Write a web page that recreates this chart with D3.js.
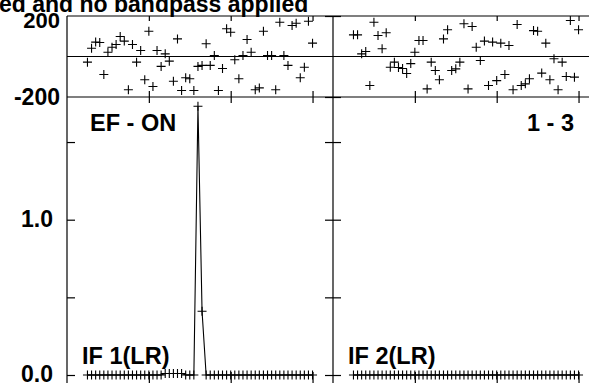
<!DOCTYPE html>
<html>
<head>
<meta charset="utf-8">
<script src="https://cdn.jsdelivr.net/npm/d3@7"></script>
<style>
  html, body { margin: 0; padding: 0; background: #fff; overflow: hidden; }
  svg { display: block; }
  text { font-family: "Liberation Sans", Arial, Helvetica, sans-serif; font-weight: bold; fill: #000; }
</style>
</head>
<body>
<svg id="chart" width="589" height="383"></svg>
<script>
// ---------------- DATA ----------------
const channels = [5,6,7,8,9,10,11,12,13,14,15,16,17,18,19,20,21,22,23,24,25,26,27,28,29,30,
  31,32,33,34,35,36,37,38,39,40,41,42,43,44,45,46,47,48,49,50,51,52,53,54,55,56,57,58,59,60];

const phaseIF1 = [-28,41,71,69,-89,21,46,59,99,76,-164,59,-28,30,-115,125,-148,30,-49,13,
  -23,-122,87,-168,-105,-110,-168,-49,-44,63,-44,5,-168,-59,137,120,-16,-110,5,84,
  21,-164,-155,125,5,5,-164,169,5,-44,153,164,-105,-53,174,66];

const phaseIF2 = [107,107,13,25,-143,169,104,38,117,-53,-28,-54,-59,-84,-35,21,79,79,-160,-28,
  -69,-115,87,132,-69,-61,-28,162,-160,148,46,-20,76,-143,71,-119,66,-89,54,-164,
  158,-143,-135,-110,128,125,-82,66,-115,-11,-164,-28,-99,178,-102,132];

const ampIF1 = [0,0,0,0,0,0,0,0,0,0,0,0,0,0,0,0,0,0,0,0.01,
  0.01,0.01,0.01,0.01,0,0,0,1.73,0.41,0,0,0,0,0,0,0,0,0,0,0,
  0,0,0,0,0,0,0,0,0,0,0,0,0,0,0,0];

const ampIF2 = [0,0,0,0,0,0,0,0,0,0,0,0,0,0,0,0,0,0,0,0,
  0,0,0,0,0,0,0,0,0,0,0,0,0,0,0,0,0,0,0,0,
  0,0,0,0,0,0,0,0,0,0,0,0,0,0,0,0];

const panels = [
  { ifLabel: "IF 1(LR)", corner: "EF - ON", phase: phaseIF1, amp: ampIF1 },
  { ifLabel: "IF 2(LR)", corner: "1 - 3",   phase: phaseIF2, amp: ampIF2 }
];

const xTicks = [20, 40, 60];
const phaseTickLabels = ["200", "-200"];
const phaseTickValues = [200, -200];
const ampTickValues = [0, 0.5, 1.0, 1.5];
const ampTickLabels = { "0": "0.0", "1": "1.0" };
const titleText = "ed and no bandpass applied";

// ---------------- LAYOUT ----------------
const svg = d3.select("#chart");
const left0 = 67, panelW = 266;
const phaseTop = 16, phaseBot = 97;
const ampTop = 97, ampZero = 375, frameBot = 392;

const yP = d3.scaleLinear().domain([-200, 200]).range([phaseBot, phaseTop]);
const yA = d3.scaleLinear().domain([0, 1.79]).range([ampZero, ampTop]);

const plus = "M-4.5,0H4.5M0,-4.5V4.5";

// title (cropped at the top-left in the original)
svg.append("text").attr("x", -1).attr("y", 12).attr("font-size", 23).text(titleText);

panels.forEach((p, i) => {
  const x0 = left0 + i * panelW;
  const x = d3.scaleLinear().domain([0, 65]).range([x0, x0 + panelW]);
  const g = svg.append("g");

  // frame lines
  g.append("line").attr("x1", x0).attr("x2", x0 + panelW).attr("y1", phaseTop).attr("y2", phaseTop)
    .attr("stroke", "#000").attr("stroke-width", 1.2);
  g.append("line").attr("x1", x0).attr("x2", x0 + panelW).attr("y1", yP(0)).attr("y2", yP(0))
    .attr("stroke", "#000").attr("stroke-width", 1.2);
  g.append("line").attr("x1", x0).attr("x2", x0 + panelW).attr("y1", phaseBot).attr("y2", phaseBot)
    .attr("stroke", "#000").attr("stroke-width", 1.2);
  g.append("line").attr("x1", x0).attr("x2", x0).attr("y1", phaseTop).attr("y2", frameBot)
    .attr("stroke", "#000").attr("stroke-width", 1.2);

  // x ticks on the phase panel: top (inward) and at the -200 line (crossing)
  const topAx = d3.axisBottom(x).tickValues(xTicks).tickSize(5).tickFormat("");
  g.append("g").attr("transform", `translate(0,${phaseTop})`).call(topAx)
    .call(s => s.select(".domain").remove());
  const midAx = d3.axisBottom(x).tickValues(xTicks).tickSize(12).tickFormat("");
  g.append("g").attr("transform", `translate(0,${phaseBot - 6})`).call(midAx)
    .call(s => s.select(".domain").remove());
  // bottom axis ticks (frame below visible area)
  const botAx = d3.axisTop(x).tickValues(xTicks).tickSize(20).tickFormat("");
  g.append("g").attr("transform", `translate(0,${frameBot})`).call(botAx)
    .call(s => s.select(".domain").remove());

  // amplitude y ticks on the left edge of each panel (both sides of inner edges)
  const ampIn = d3.axisRight(yA).tickValues(ampTickValues).tickSize(8).tickFormat("");
  g.append("g").attr("transform", `translate(${x0},0)`).call(ampIn)
    .call(s => s.select(".domain").remove());
  if (i > 0) {
    const ampOut = d3.axisLeft(yA).tickValues(ampTickValues).tickSize(8).tickFormat("");
    g.append("g").attr("transform", `translate(${x0},0)`).call(ampOut)
      .call(s => s.select(".domain").remove());
    const phOut = d3.axisLeft(yP).tickValues(phaseTickValues).tickSize(8).tickFormat("");
    g.append("g").attr("transform", `translate(${x0},0)`).call(phOut)
      .call(s => s.select(".domain").remove());
    const phIn = d3.axisRight(yP).tickValues(phaseTickValues).tickSize(8).tickFormat("");
    g.append("g").attr("transform", `translate(${x0},0)`).call(phIn)
      .call(s => s.select(".domain").remove());
  }
  g.selectAll(".tick line").attr("stroke", "#000").attr("stroke-width", 1.2);

  // phase markers
  g.selectAll("path.ph").data(p.phase).enter().append("path").attr("class", "ph")
    .attr("d", plus).attr("transform", (d, k) => `translate(${x(channels[k])},${yP(d)})`)
    .attr("stroke", "#000").attr("stroke-width", 1.1).attr("fill", "none");

  // amplitude line + markers
  const line = d3.line().x((d, k) => x(channels[k])).y(d => yA(d));
  g.append("path").datum(p.amp).attr("d", line).attr("fill", "none")
    .attr("stroke", "#000").attr("stroke-width", 1.1);
  g.selectAll("path.am").data(p.amp).enter().append("path").attr("class", "am")
    .attr("d", plus).attr("transform", (d, k) => `translate(${x(channels[k])},${yA(d)})`)
    .attr("stroke", "#000").attr("stroke-width", 1.1).attr("fill", "none");

  // labels
  if (i === 0) {
    svg.append("text").attr("x", x0 + 23).attr("y", 131).attr("font-size", 23.5).text(p.corner);
  } else {
    svg.append("text").attr("x", 574).attr("y", 131).attr("font-size", 23.5)
      .attr("text-anchor", "end").text(p.corner);
  }
  svg.append("text").attr("x", x0 + 15).attr("y", 364).attr("font-size", 23.5).text(p.ifLabel);
});

// y-axis labels
svg.append("text").attr("x", 60).attr("y", 28).attr("font-size", 22).attr("text-anchor", "end")
  .text(phaseTickLabels[0]);
svg.append("text").attr("x", 60).attr("y", 105).attr("font-size", 23).attr("text-anchor", "end")
  .text(phaseTickLabels[1]);
ampTickValues.forEach(v => {
  const lab = ampTickLabels[String(v)];
  if (lab) {
    svg.append("text").attr("x", 53).attr("y", yA(v) + 7).attr("font-size", 23)
      .attr("text-anchor", "end").text(lab);
  }
});
</script>
</body>
</html>
